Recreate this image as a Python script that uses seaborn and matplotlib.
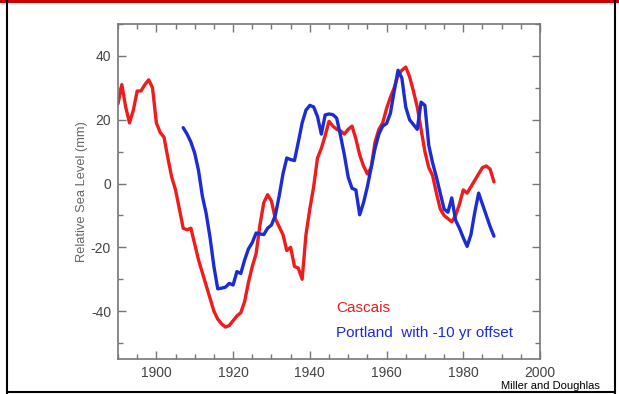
import matplotlib
matplotlib.use("Agg")
import matplotlib.pyplot as plt
from matplotlib.lines import Line2D
from matplotlib.patches import Rectangle
from matplotlib.ticker import MultipleLocator
import seaborn as sns
import pandas as pd

# Cascais annual relative sea level (mm)
cascais_years = list(range(1890, 1989))
cascais_mm = [
    25, 31, 24, 19, 23, 29, 29, 31, 32.5, 30,
    19, 16, 14.5, 8, 2, -2, -8, -14, -14.5, -14,
    -19, -24, -28, -32, -36, -40, -42.5, -44, -45, -44.5,
    -43, -41.5, -40.5, -37, -31, -26, -22, -13, -6, -3.5,
    -5.5, -11, -13.5, -16, -21, -20, -26, -26.5, -30, -16,
    -8, -1, 8, 11, 15, 19.5, 18, 17, 16.5, 15.5,
    17, 18, 14, 9, 5.5, 3, 5, 13, 17, 19,
    23.5, 27, 30, 34, 35.5, 36.5, 33.5, 29, 24, 17,
    10, 5, 2.5, -3, -8, -10, -11, -12, -10, -6.5,
    -2, -3, -1, 1, 3, 5, 5.5, 4.5, 0.5,
]

# Portland annual relative sea level (mm), shifted by -10 years
portland_years = list(range(1907, 1989))
portland_mm = [
    17.5, 15.5, 13, 9.5, 4, -4, -9.5, -17, -26,
    -33, -32.8, -32.5, -31.3, -31.8, -27.6, -28.2, -24, -20.5, -18.5,
    -15.5, -15.8, -16, -14, -13, -10, -4, 3, 8, 7.5,
    7.2, 13, 19, 23, 24.5, 24, 21, 15.5, 21.5, 21.8,
    21.6, 20.5, 15, 9, 2, -1.5, -2, -9.8, -6, -1,
    5, 11, 15.5, 18, 18.8, 22, 29, 35.5, 33, 24,
    20, 18.5, 17, 25.5, 24.5, 12, 6.5, 2, -3, -8,
    -9, -4.5, -11.5, -14, -17, -19.7, -16, -9, -3, -6.5,
    -10, -13.5, -16.5,
]

series_labels = ["Cascais", "Portland  with -10 yr offset"]
series_colors = ["#ee1c1c", "#1c2cd4"]
credit_text = "Miller and Doughlas"
y_label = "Relative Sea Level (mm)"

cascais = pd.DataFrame({"year": cascais_years, "mm": cascais_mm})
portland = pd.DataFrame({"year": portland_years, "mm": portland_mm})

sns.set_theme(style="ticks")
plt.rcParams["font.family"] = ["Liberation Sans", "DejaVu Sans"]
plt.rcParams["axes.unicode_minus"] = False

fig = plt.figure(figsize=(6.19, 3.94), dpi=100)
fig.patch.set_facecolor("white")
ax = fig.add_axes([118 / 619, 35 / 394, 422 / 619, 335 / 394])

sns.lineplot(data=cascais, x="year", y="mm", ax=ax, color=series_colors[0],
             linewidth=2.4, solid_joinstyle="round")
sns.lineplot(data=portland, x="year", y="mm", ax=ax, color=series_colors[1],
             linewidth=2.4, solid_joinstyle="round")

ax.set_xlim(1890, 2000)
ax.set_ylim(-55, 50)
ax.xaxis.set_major_locator(MultipleLocator(20))
ax.xaxis.set_minor_locator(MultipleLocator(5))
ax.yaxis.set_major_locator(MultipleLocator(20))
ax.yaxis.set_minor_locator(MultipleLocator(10))
ax.tick_params(which="both", direction="in", top=True, right=True,
               color="#777777", width=1.0)
ax.tick_params(which="major", length=6, labelsize=10, labelcolor="#444444", pad=5)
ax.tick_params(which="minor", length=3.5)
for s in ax.spines.values():
    s.set_color("#777777")
    s.set_linewidth(1.2)

ax.set_xlabel("")
ax.set_ylabel(y_label, fontsize=9.3, color="#666666", labelpad=2)

fig.text(336 / 619, 1 - 308 / 394, series_labels[0], color=series_colors[0],
         fontsize=11, va="center", ha="left")
fig.text(336 / 619, 1 - 333 / 394, series_labels[1], color=series_colors[1],
         fontsize=11, va="center", ha="left")
fig.text(600 / 619, 1 - 386 / 394, credit_text, color="black",
         fontsize=8, va="center", ha="right")

# page frame: red bar across the top, dark rule on the other sides
fig.add_artist(Rectangle((0, 1 - 2.5 / 394), 1, 2.5 / 394, transform=fig.transFigure,
                         facecolor="#cc0000", edgecolor="none"))
fig.add_artist(Line2D([7 / 619, 7 / 619], [0, 1], transform=fig.transFigure,
                      color="black", linewidth=1.5))
fig.add_artist(Line2D([615 / 619, 615 / 619], [0, 1], transform=fig.transFigure,
                      color="black", linewidth=1.5))
fig.add_artist(Line2D([7 / 619, 615 / 619], [1 - 391.5 / 394, 1 - 391.5 / 394],
                      transform=fig.transFigure, color="black", linewidth=1.5))

fig.savefig("out.png", dpi=100)
